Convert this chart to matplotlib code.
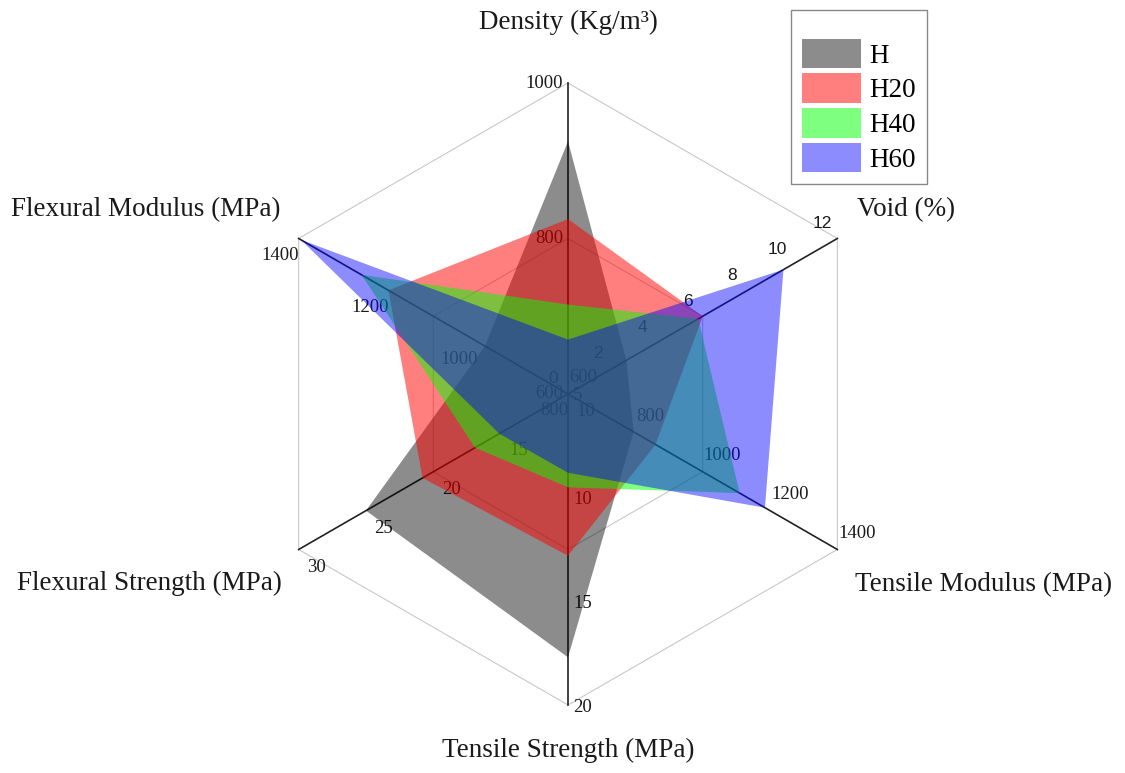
import numpy as np
import matplotlib
matplotlib.use('Agg')
import matplotlib.pyplot as plt
from matplotlib.patches import Patch

# Ejes del radar (sentido horario desde arriba)
categorias = ['Density (Kg/m³)', 'Void (%)', 'Tensile Modulus (MPa)',
              'Tensile Strength (MPa)', 'Flexural Strength (MPa)', 'Flexural Modulus (MPa)']
eje_min = [600, 0, 600, 5, 10, 800]
eje_max = [1000, 12, 1400, 20, 30, 1400]
eje_paso = [200, 2, 200, 5, 5, 200]

# Valores
series = ['H', 'H20', 'H40', 'H60']
H = [925, 2.6, 795, 17.7, 25.0, 985]
H20 = [825, 6.0, 860, 12.8, 20.8, 1200]
H40 = [715, 5.8, 1110, 9.5, 16.9, 1260]
H60 = [670, 9.6, 1185, 8.8, 15.1, 1395]

colores = ['#000000', '#ff0000', '#00ff00', '#0000ff']
alfas = [0.45, 0.5, 0.5, 0.45]

serif = 'Liberation Serif'
sans = 'Liberation Sans'

angulos = np.deg2rad([90, 30, -30, -90, -150, 150])
n = len(categorias)


def a_xy(valores):
    r = [(v - lo) / (hi - lo) for v, lo, hi in zip(valores, eje_min, eje_max)]
    r = np.array(r)
    return r * np.cos(angulos), r * np.sin(angulos)


fig = plt.figure(figsize=(11.25, 7.73), dpi=100)
ax = fig.add_axes([0, 0, 1, 1])
R = 311.0
cx, cy = 568.0, 394.0
ax.set_xlim(-cx / R, (1125 - cx) / R)
ax.set_ylim(-(773 - cy) / R, cy / R)
ax.axis('off')

# Rejilla hexagonal
for frac in [0.5, 1.0]:
    hx = np.append(frac * np.cos(angulos), frac * np.cos(angulos[0]))
    hy = np.append(frac * np.sin(angulos), frac * np.sin(angulos[0]))
    ax.plot(hx, hy, color='#c8c8c8', lw=0.8, zorder=1)

# Radios
for ang in angulos:
    ax.plot([0, np.cos(ang)], [0, np.sin(ang)], color='#222222', lw=1.2, zorder=2)

# Etiquetas de los ejes (debajo de los polígonos)
desplaz = [(-5, 0), (-15, 15), (1, 16), (5, -2), (18, -18), (0, -17)]
alin = ['right', 'center', 'left', 'left', 'center', 'right']
for i in range(n):
    ticks = np.arange(eje_min[i], eje_max[i] + eje_paso[i] / 2, eje_paso[i])
    for t in ticks:
        r = (t - eje_min[i]) / (eje_max[i] - eje_min[i])
        fam = sans if i == 1 else serif
        tam = 12.5 if i == 1 else 13.5
        ax.annotate(f'{t:g}', (r * np.cos(angulos[i]), r * np.sin(angulos[i])),
                    xytext=desplaz[i], textcoords='offset pixels',
                    ha=alin[i], va='center', fontsize=tam, family=fam,
                    color='#1a1a1a', zorder=3)

# Polígonos
for nombre, vals, col, al in zip(series, [H, H20, H40, H60], colores, alfas):
    x, y = a_xy(vals)
    ax.fill(x, y, color=col, alpha=al, lw=0, zorder=4 + series.index(nombre))

# Títulos de los ejes
pos_titulo = [(0.0, 1.195, 'center'), (0.929, 0.592, 'left'), (0.923, -0.614, 'left'),
              (0.0, -1.145, 'center'), (-0.920, -0.608, 'right'), (-0.926, 0.592, 'right')]
for cat, (tx, ty, ha) in zip(categorias, pos_titulo):
    ax.text(tx, ty, cat, ha=ha, va='center', fontsize=19.5, family=serif, color='#1a1a1a')

# Leyenda
manijas = [Patch(facecolor=c, alpha=a, edgecolor='none') for c, a in zip(colores, alfas)]
leg = ax.legend(manijas, series, loc='upper left', bbox_to_anchor=(791 / 1125, 1 - 10 / 773),
                bbox_transform=fig.transFigure, prop={'family': serif, 'size': 19.5},
                title=' ', title_fontproperties={'size': 9},
                handlelength=2.2, handleheight=1.3, handletextpad=0.3,
                labelspacing=0.18, borderpad=0.4, borderaxespad=0, fancybox=False,
                framealpha=1, edgecolor='#888888')
leg.get_frame().set_linewidth(1.0)

fig.savefig('out.png', dpi=100)
